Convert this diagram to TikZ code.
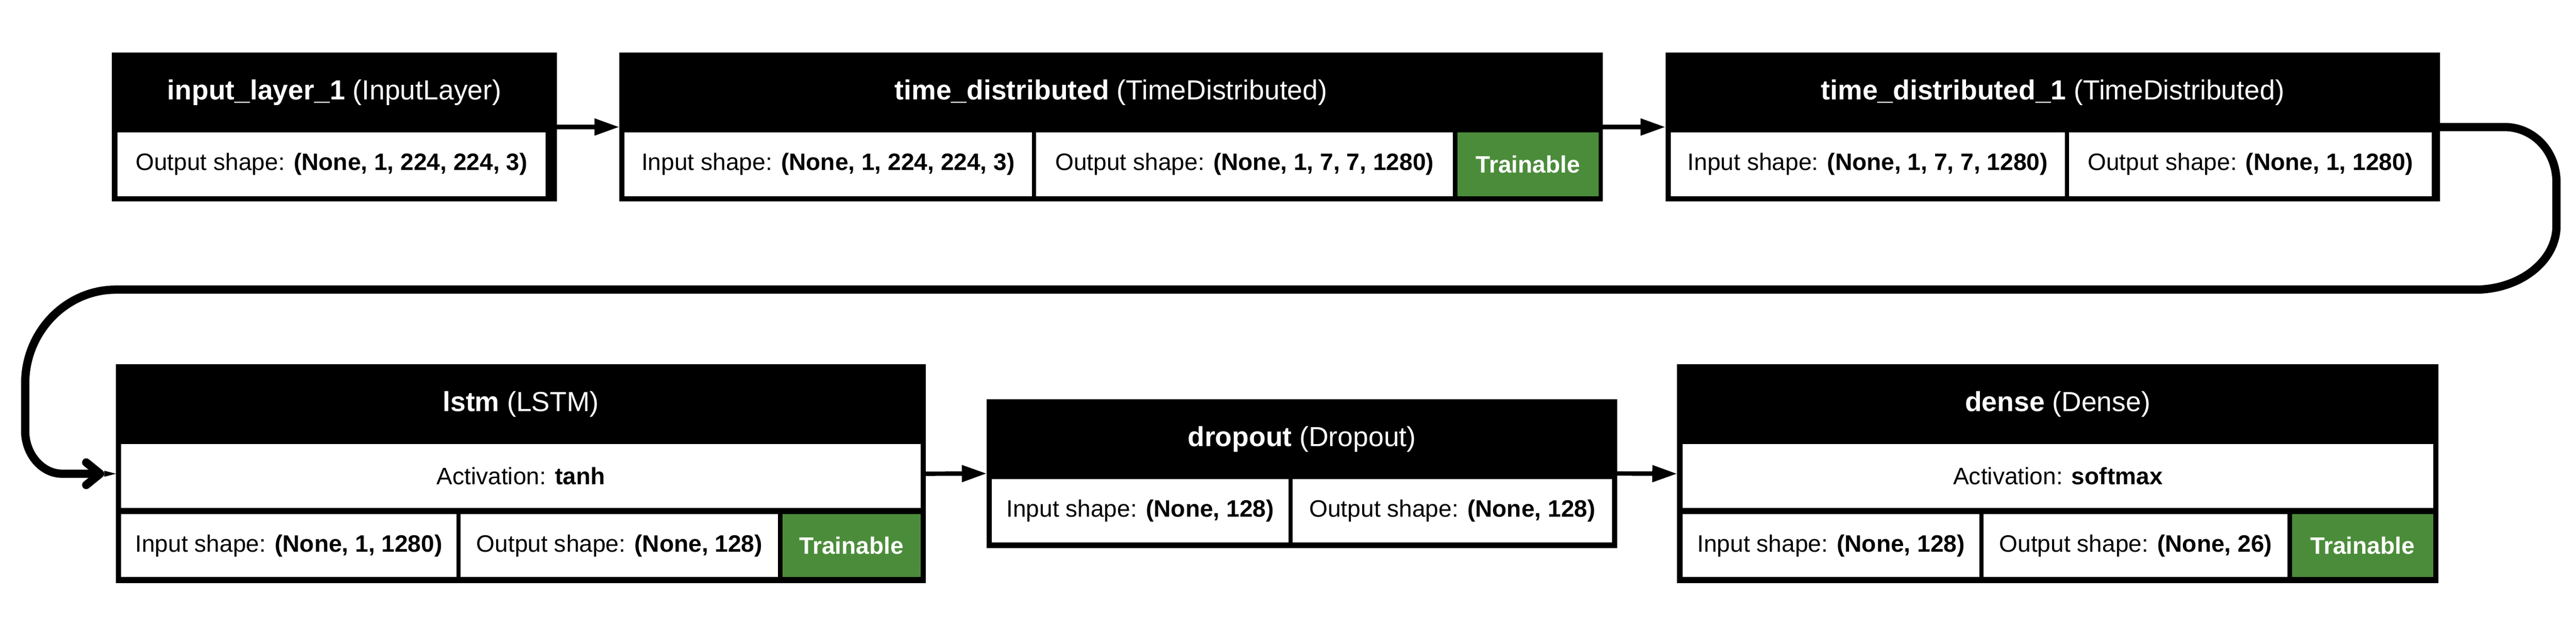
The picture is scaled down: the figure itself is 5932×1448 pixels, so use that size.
\documentclass[tikz,border=0pt]{standalone}
\usepackage{fontspec}
\setmainfont{Liberation Sans}
\usetikzlibrary{arrows.meta}
\definecolor{trgreen}{RGB}{75,140,58}
\newcommand\bodyf{\fontsize{54.7}{62}\selectfont}
\newcommand\hdrf{\fontsize{63.5}{72}\selectfont}
\begin{document}
\begin{tikzpicture}[x=1pt,y=-1pt,
  frame/.style={fill=black, draw=none, inner sep=0pt, outer sep=0pt, anchor=north west},
  cell/.style={fill=white, draw=none, inner sep=0pt, outer sep=0pt, anchor=north west, font=\bodyf, text=black},
  trcell/.style={cell, fill=trgreen, text=white, font=\bodyf\bfseries},
  hdr/.style={text=white, font=\hdrf, inner sep=0pt},
  flow/.style={line width=10pt, -{Triangle[length=57pt,width=37pt]}},
  loopflow/.style={line width=19pt, -{Straight Barb[length=32pt,width=52pt,round]}, shorten >=27pt}
]
\useasboundingbox[fill=white] (0,0) rectangle (5932,1448);

% ---- row 1 ----
\node[frame, minimum width=1024pt, minimum height=343pt] (b1) at (258,121) {};
\node[hdr] (b1h) at (770,213) {\textbf{input\_layer\_1} (InputLayer)};
\node[cell, minimum width=985pt, minimum height=147pt] (b1o) at (271,305) {Output shape: \textbf{(None, 1, 224, 224, 3)}};

\node[frame, minimum width=2265pt, minimum height=343pt] (b2) at (1426,121) {};
\node[hdr] (b2h) at (2558.5,213) {\textbf{time\_distributed} (TimeDistributed)};
\node[cell, minimum width=938pt, minimum height=147pt] (b2i) at (1438,305) {Input shape: \textbf{(None, 1, 224, 224, 3)}};
\node[cell, minimum width=960pt, minimum height=147pt] (b2o) at (2386,305) {Output shape: \textbf{(None, 1, 7, 7, 1280)}};
\node[trcell, minimum width=325pt, minimum height=147pt] (b2t) at (3356,305) {Trainable};

\node[frame, minimum width=1784pt, minimum height=343pt] (b3) at (3835,121) {};
\node[hdr] (b3h) at (4727,213) {\textbf{time\_distributed\_1} (TimeDistributed)};
\node[cell, minimum width=908pt, minimum height=147pt] (b3i) at (3847,305) {Input shape: \textbf{(None, 1, 7, 7, 1280)}};
\node[cell, minimum width=835pt, minimum height=147pt] (b3o) at (4765,305) {Output shape: \textbf{(None, 1, 1280)}};

% ---- row 2 ----
\node[frame, minimum width=1865pt, minimum height=504pt] (lstm) at (267,839) {};
\node[hdr] (lstmh) at (1199.5,931) {\textbf{lstm} (LSTM)};
\node[cell, minimum width=1841pt, minimum height=147pt] (lstma) at (279,1023) {Activation: \textbf{tanh}};
\node[cell, minimum width=772pt, minimum height=145pt] (lstmi) at (279,1184) {Input shape: \textbf{(None, 1, 1280)}};
\node[cell, minimum width=731pt, minimum height=145pt] (lstmo) at (1061,1184) {Output shape: \textbf{(None, 128)}};
\node[trcell, minimum width=318pt, minimum height=145pt] (lstmt) at (1802,1184) {Trainable};

\node[frame, minimum width=1452pt, minimum height=343pt] (drop) at (2272,919) {};
\node[hdr] (droph) at (2998,1011) {\textbf{dropout} (Dropout)};
\node[cell, minimum width=683pt, minimum height=146pt] (dropi) at (2284,1103) {Input shape: \textbf{(None, 128)}};
\node[cell, minimum width=735pt, minimum height=146pt] (dropo) at (2977,1103) {Output shape: \textbf{(None, 128)}};

\node[frame, minimum width=1753pt, minimum height=504pt] (dense) at (3862,839) {};
\node[hdr] (denseh) at (4738.5,931) {\textbf{dense} (Dense)};
\node[cell, minimum width=1728pt, minimum height=147pt] (densea) at (3875,1023) {Activation: \textbf{softmax}};
\node[cell, minimum width=683pt, minimum height=145pt] (densei) at (3875,1184) {Input shape: \textbf{(None, 128)}};
\node[cell, minimum width=700pt, minimum height=145pt] (denseo) at (4568,1184) {Output shape: \textbf{(None, 26)}};
\node[trcell, minimum width=325pt, minimum height=145pt] (denset) at (5278,1184) {Trainable};

% ---- connectors ----
\draw[flow] (b1.east) -- (b2.west);
\draw[flow] (b2.east) -- (b3.west);
\draw[flow] (lstm.east) -- (drop.west);
\draw[flow] (drop.east) -- (dense.west);

\draw[loopflow] (b3.east) -- (5767,292.5)
  .. controls (5833,292.5) and (5887,347) .. (5887,420)
  -- (5887,520)
  .. controls (5887,601) and (5803,667) .. (5700,667)
  -- (267,667)
  .. controls (152,667) and (58,764) .. (58,883)
  -- (58,993)
  .. controls (58,1045) and (96,1091) .. (143,1091)
  -- (lstm.west);
\fill (lstm.west) -- ++(-27,-7) -- ++(0,14) -- cycle;
\end{tikzpicture}
\end{document}
